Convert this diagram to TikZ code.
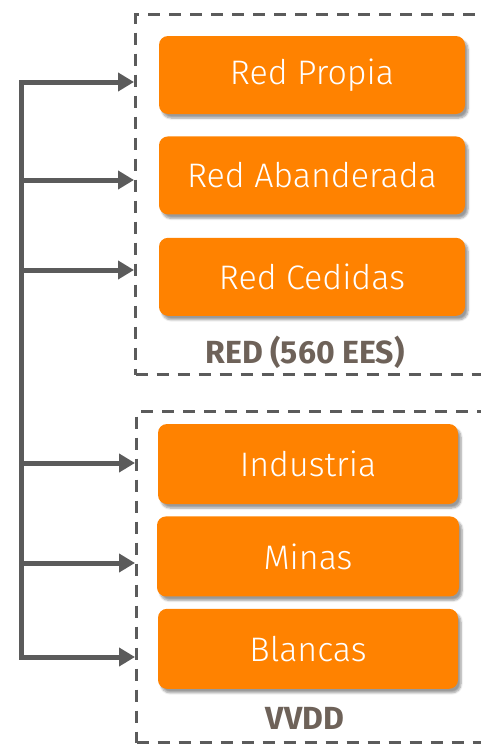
\documentclass[tikz,border=0pt]{standalone}
\usepackage{fontspec}
\setmainfont{Fira Sans}[UprightFont=* Light, BoldFont=* Bold]
\usetikzlibrary{positioning}
\usetikzlibrary{arrows.meta}
\usetikzlibrary{shadows.blur}
\definecolor{unitorange}{HTML}{FF8200}
\definecolor{linegray}{HTML}{5B5B5B}
\definecolor{titlegray}{HTML}{6E6259}

\tikzset{
  unit/.style={rectangle, rounded corners=9pt, fill=unitorange, text=white,
    minimum width=306pt, minimum height=78pt, font=\fontsize{34}{38}\selectfont,
    blur shadow={shadow xshift=3pt, shadow yshift=-4pt, shadow blur steps=6, shadow opacity=40}},
  frame/.style={draw=linegray, line width=3.2pt, dash pattern=on 12pt off 9pt,
    anchor=north west, inner sep=0pt},
  grouptitle/.style={text=titlegray, font=\fontsize{32}{36}\selectfont\bfseries},
  flow/.style={draw=linegray, line width=5pt, -{Triangle[length=16pt,width=18pt]}}
}

\begin{document}
\begin{tikzpicture}[x=1pt, y=-1pt]
  \path[use as bounding box, clip] (0,0) rectangle (481,744);

  % Group frames
  \node[frame, minimum width=420pt, minimum height=360pt] (red) at (134,13) {};
  \node[frame, minimum width=420pt, minimum height=331pt] (vvdd) at (135,410) {};

  % Units of the network
  \node[unit] (propia) at (312,75) {Red Propia};
  \node[unit, below=22pt of propia] (abanderada) {Red Abanderada};
  \node[unit, below=23pt of abanderada] (cedidas) {Red Cedidas};
  \node[grouptitle] (redtitle) at (305,352) {RED (560 EES)};

  % Units of the VVDD
  \node[unit, minimum width=300pt, minimum height=80pt] (industria) at (308,464) {Industria};
  \node[unit, minimum width=302pt, minimum height=80pt, below=12pt of industria] (minas) {Minas};
  \node[unit, minimum width=300pt, minimum height=80pt, below=12pt of minas] (blancas) {Blancas};
  \node[grouptitle] (vvddtitle) at (305,718) {VVDD};

  % Bus
  \coordinate (b1) at (21,82);
  \coordinate (b2) at (21,180);
  \coordinate (b3) at (21,270);
  \coordinate (b4) at (21,463);
  \coordinate (b5) at (21,563);
  \coordinate (b6) at (21,657);

  \draw[flow] (b6) -- (b1) -- (b1 -| red.west);
  \draw[flow] (b1) -- (b6) -- (b6 -| vvdd.west);
  \foreach \b in {b2,b3} \draw[flow] (\b) -- (\b -| red.west);
  \foreach \b in {b4,b5} \draw[flow] (\b) -- (\b -| vvdd.west);

\end{tikzpicture}
\end{document}
